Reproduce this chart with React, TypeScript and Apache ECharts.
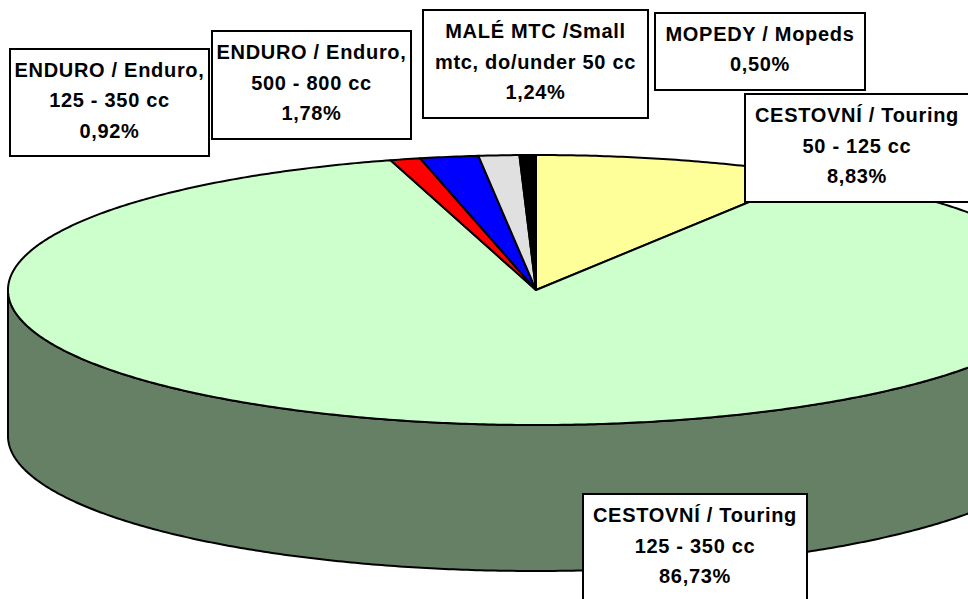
import React, { useEffect, useRef } from "react";
import * as echarts from "echarts";

const categories = [
  "CESTOVNÍ / Touring\n50 - 125 cc",
  "CESTOVNÍ / Touring\n125 - 350 cc",
  "ENDURO / Enduro,\n125 - 350 cc",
  "ENDURO / Enduro,\n500 - 800 cc",
  "MALÉ MTC /Small\nmtc, do/under 50 cc",
  "MOPEDY / Mopeds",
];
const shares = [8.83, 86.73, 0.92, 1.78, 1.24, 0.5];
const topColors = ["#FFFF99", "#CCFFCC", "#FF0000", "#0000FF", "#E0E0E0", "#000000"];
const sideColors = ["#808066", "#668066", "#800000", "#000080", "#707070", "#000000"];
const labelBoxes = [
  [745, 94, 240, 108],
  [583, 494, 224, 108],
  [10, 49, 199, 107],
  [212, 31, 199, 108],
  [423, 10, 225, 108],
  [655, 13, 210, 77],
];

const CX = 536;
const CY = 290;
const RX = 528;
const RY = 135;
const DEPTH = 146;

const total = shares.reduce((a, b) => a + b, 0);
const startFrac = (i: number) => shares.slice(0, i).reduce((a, b) => a + b, 0) / total;
const pt = (deg: number, dy = 0): number[] => {
  const r = (deg * Math.PI) / 180;
  return [CX + RX * Math.sin(r), CY - RY * Math.cos(r) + dy];
};
const arcPts = (from: number, to: number, dy = 0): number[][] => {
  const out: number[][] = [];
  const n = Math.max(2, Math.ceil((to - from) * 2));
  for (let k = 0; k <= n; k++) out.push(pt(from + ((to - from) * k) / n, dy));
  return out;
};

const renderSlice = (params: any) => {
  const i = params.dataIndex;
  const a0 = startFrac(i) * 360;
  const a1 = startFrac(i + 1) * 360;
  const children: any[] = [];
  const s0 = Math.max(a0, 90);
  const s1 = Math.min(a1, 270);
  if (s1 > s0) {
    children.push({
      type: "polygon",
      shape: { points: [...arcPts(s0, s1), ...arcPts(s0, s1, DEPTH).reverse()] },
      style: { fill: sideColors[i], stroke: "#000", lineWidth: 2, lineJoin: "round" },
    });
  }
  children.push({
    type: "polygon",
    shape: { points: [[CX, CY], ...arcPts(a0, a1)] },
    style: { fill: topColors[i], stroke: "#000", lineWidth: 2, lineJoin: "round" },
  });
  return { type: "group", children };
};

const renderLabel = (params: any) => {
  const i = params.dataIndex;
  const [x, y, w, h] = labelBoxes[i];
  const text = `${categories[i]}\n${shares[i].toFixed(2).replace(".", ",")}%`;
  return {
    type: "group",
    children: [
      {
        type: "rect",
        shape: { x, y, width: w, height: h },
        style: { fill: "#fff", stroke: "#000", lineWidth: 2 },
      },
      {
        type: "text",
        x: i === 0 ? 857 : x + w / 2,
        y: y + h / 2 - 2.5,
        style: {
          text,
          fill: "#000",
          font: 'bold 20px "Liberation Sans", Arial, sans-serif',
          lineHeight: 30.5,
          align: "center",
          verticalAlign: "middle",
        },
      },
    ],
  };
};

export default function App() {
  const ref = useRef<HTMLDivElement>(null);
  useEffect(() => {
    document.body.style.margin = "0";
    const chart = echarts.init(ref.current!, undefined, { renderer: "svg" });
    chart.setOption({
      animation: false,
      backgroundColor: "#fff",
      series: [
        {
          type: "custom",
          coordinateSystem: "none",
          silent: true,
          z: 1,
          data: shares,
          renderItem: renderSlice,
        },
        {
          type: "custom",
          coordinateSystem: "none",
          silent: true,
          z: 2,
          data: shares,
          renderItem: renderLabel,
        },
      ],
    });
    return () => chart.dispose();
  }, []);
  return <div ref={ref} style={{ width: 968, height: 599, letterSpacing: "0.7px" }} />;
}
